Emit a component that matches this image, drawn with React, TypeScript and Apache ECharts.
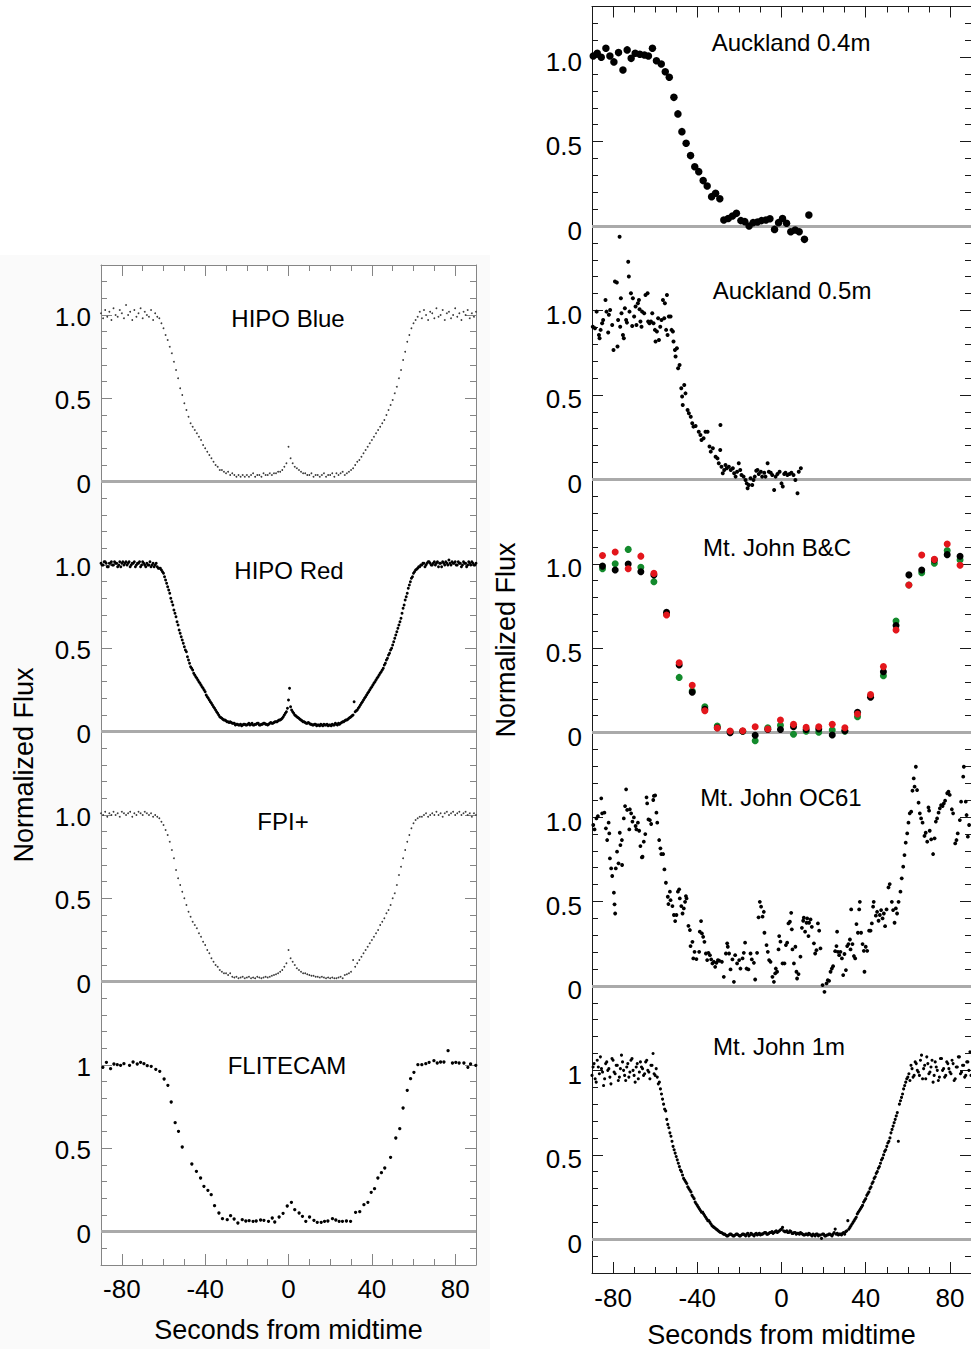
import React, { useEffect, useRef } from 'react';
import * as echarts from 'echarts';

const FONT = '"Liberation Sans", Arial, Helvetica, sans-serif';

// ---------- shared sample times (s from midtime) ----------
const secs = [-90,-89,-88,-87,-86,-85,-84,-83,-82,-81,-80,-79,-78,-77,-76,-75,-74,-73,-72,-71,-70,-69,-68,-67,-66,-65,-64,-63,-62,-61,-60,-59,-58,-57,-56,-55,-54,-53,-52,-51,-50,-49,-48,-47,-46,-45,-44,-43,-42,-41,-40,-39,-38,-37,-36,-35,-34,-33,-32,-31,-30,-29,-28,-27,-26,-25,-24,-23,-22,-21,-20,-19,-18,-17,-16,-15,-14,-13,-12,-11,-10,-9,-8,-7,-6,-5,-4,-3,-2,-1,0,1,2,3,4,5,6,7,8,9,10,11,12,13,14,15,16,17,18,19,20,21,22,23,24,25,26,27,28,29,30,31,32,33,34,35,36,37,38,39,40,41,42,43,44,45,46,47,48,49,50,51,52,53,54,55,56,57,58,59,60,61,62,63,64,65,66,67,68,69,70,71,72,73,74,75,76,77,78,79,80,81,82,83,84,85,86,87,88,89,90];
const secsHalf = [-89.5,-88.5,-87.5,-86.5,-85.5,-84.5,-83.5,-82.5,-81.5,-80.5,-79.5,-78.5,-77.5,-76.5,-75.5,-74.5,-73.5,-72.5,-71.5,-70.5,-69.5,-68.5,-67.5,-66.5,-65.5,-64.5,-63.5,-62.5,-61.5,-60.5,-59.5,-58.5,-57.5,-56.5,-55.5,-54.5,-53.5,-52.5,-51.5,-50.5,-49.5,-48.5,-47.5,-46.5,-45.5,-44.5,-43.5,-42.5,-41.5,-40.5,-39.5,-38.5,-37.5,-36.5,-35.5,-34.5,-33.5,-32.5,-31.5,-30.5,-29.5,-28.5,-27.5,-26.5,-25.5,-24.5,-23.5,-22.5,-21.5,-20.5,-19.5,-18.5,-17.5,-16.5,-15.5,-14.5,-13.5,-12.5,-11.5,-10.5,-9.5,-8.5,-7.5,-6.5,-5.5,-4.5,-3.5,-2.5,-1.5,-0.5,0.5,1.5,2.5,3.5,4.5,5.5,6.5,7.5,8.5,9.5,10.5,11.5,12.5,13.5,14.5,15.5,16.5,17.5,18.5,19.5,20.5,21.5,22.5,23.5,24.5,25.5,26.5,27.5,28.5,29.5,30.5,31.5,32.5,33.5,34.5,35.5,36.5,37.5,38.5,39.5,40.5,41.5,42.5,43.5,44.5,45.5,46.5,47.5,48.5,49.5,50.5,51.5,52.5,53.5,54.5,55.5,56.5,57.5,58.5,59.5,60.5,61.5,62.5,63.5,64.5,65.5,66.5,67.5,68.5,69.5,70.5,71.5,72.5,73.5,74.5,75.5,76.5,77.5,78.5,79.5,80.5,81.5,82.5,83.5,84.5,85.5,86.5,87.5,88.5,89.5];

// ---------- HIPO Blue ----------
const hipoBlue = [
1.01,0.98,1.03,0.99,1.02,0.97,1.04,1.00,0.99,1.03,
1.01,0.98,1.06,1.00,1.02,0.97,1.03,0.99,1.01,1.04,
0.98,1.02,1.00,0.99,1.03,0.97,1.01,0.99,0.98,0.95,
0.92,0.88,0.85,0.81,0.77,0.72,0.67,0.62,0.56,0.52,
0.47,0.43,0.39,0.35,0.33,0.31,0.29,0.27,0.25,0.22,
0.20,0.18,0.16,0.14,0.12,0.10,0.09,0.07,0.07,0.06,
0.05,0.06,0.04,0.05,0.04,0.03,0.04,0.03,0.04,0.03,
0.04,0.03,0.04,0.05,0.03,0.04,0.04,0.03,0.05,0.04,
0.04,0.05,0.04,0.05,0.05,0.06,0.06,0.07,0.09,0.11,
0.21,0.14,0.11,0.09,0.08,0.07,0.06,0.05,0.05,0.04,
0.04,0.05,0.03,0.04,0.04,0.03,0.04,0.05,0.03,0.04,
0.04,0.05,0.03,0.05,0.04,0.05,0.06,0.04,0.05,0.06,
0.07,0.08,0.10,0.12,0.13,0.15,0.17,0.19,0.21,0.23,
0.25,0.27,0.29,0.31,0.33,0.35,0.37,0.40,0.43,0.46,
0.49,0.53,0.57,0.62,0.67,0.73,0.78,0.84,0.88,0.92,
0.95,0.97,0.99,1.02,0.98,1.03,1.00,0.97,1.02,1.01,
0.98,1.04,0.99,1.00,1.03,0.97,1.01,1.02,0.98,1.00,
1.04,0.99,1.01,0.97,1.02,1.00,1.03,0.98,1.01,0.99,
1.02];

// ---------- HIPO Red ----------
const hipoRed = [
1.01,1.00,1.02,0.99,1.01,1.02,1.00,1.01,0.99,1.02,
1.01,1.00,1.02,1.01,0.99,1.01,1.02,1.00,1.01,0.99,
1.02,1.00,1.01,1.00,0.99,1.01,1.00,0.99,0.98,0.97,
0.95,0.91,0.87,0.83,0.78,0.73,0.69,0.64,0.59,0.55,
0.51,0.48,0.43,0.39,0.37,0.34,0.32,0.30,0.28,0.26,
0.24,0.21,0.19,0.17,0.15,0.13,0.11,0.09,0.08,0.07,
0.065,0.06,0.06,0.05,0.05,0.045,0.04,0.045,0.04,0.045,
0.04,0.05,0.045,0.04,0.045,0.05,0.04,0.045,0.05,0.045,
0.04,0.05,0.05,0.055,0.06,0.065,0.07,0.08,0.10,0.12,
0.19,0.15,0.12,0.10,0.09,0.08,0.07,0.06,0.055,0.05,
0.05,0.045,0.04,0.045,0.04,0.035,0.04,0.045,0.04,0.035,
0.04,0.045,0.04,0.045,0.05,0.05,0.06,0.065,0.07,0.08,
0.09,0.10,0.12,0.13,0.15,0.17,0.19,0.21,0.23,0.25,
0.27,0.29,0.31,0.33,0.35,0.37,0.40,0.43,0.46,0.49,
0.52,0.56,0.60,0.64,0.68,0.74,0.79,0.83,0.88,0.92,
0.95,0.97,0.98,0.99,1.00,1.01,1.00,1.02,1.01,1.00,
1.02,1.01,0.99,1.01,1.02,1.00,1.01,1.03,1.00,1.01,
1.02,1.00,1.01,0.99,1.02,1.01,1.00,1.01,1.02,1.00,
1.01];
const hipoRedHalf = [
1.00,1.02,1.01,0.99,1.01,1.00,1.02,1.01,1.00,0.99,
1.02,1.01,1.00,1.02,1.00,1.01,0.99,1.01,1.02,1.00,
1.01,0.99,1.00,1.02,1.00,0.99,1.01,0.98,0.98,0.96,
0.93,0.89,0.85,0.80,0.76,0.71,0.66,0.61,0.57,0.53,
0.49,0.45,0.41,0.38,0.35,0.33,0.31,0.29,0.27,0.25,
0.22,0.20,0.18,0.16,0.14,0.12,0.10,0.085,0.075,0.07,
0.06,0.055,0.055,0.05,0.04,0.045,0.04,0.035,0.045,0.04,
0.045,0.04,0.05,0.04,0.045,0.05,0.04,0.045,0.05,0.045,
0.045,0.055,0.05,0.06,0.06,0.07,0.075,0.09,0.11,0.14,
0.26,0.13,0.11,0.095,0.085,0.075,0.065,0.06,0.05,0.055,
0.045,0.04,0.045,0.035,0.04,0.045,0.035,0.04,0.045,0.04,
0.035,0.04,0.05,0.04,0.045,0.055,0.06,0.07,0.075,0.085,
0.095,0.18,0.125,0.14,0.16,0.18,0.20,0.22,0.24,0.26,
0.28,0.30,0.32,0.34,0.36,0.38,0.41,0.44,0.47,0.50,
0.54,0.58,0.62,0.66,0.71,0.76,0.81,0.86,0.90,0.93,
0.96,0.975,0.99,1.00,1.01,0.99,1.01,1.02,1.00,1.01,
1.00,1.02,1.01,0.99,1.01,1.02,1.00,1.01,1.02,1.01,
1.00,1.02,1.01,1.00,1.01,0.99,1.02,1.00,1.01,1.00];

// ---------- FPI+ ----------
const fpiPlus = [
1.01,1.00,1.02,0.99,1.01,1.00,1.02,1.00,1.01,0.99,
1.02,1.01,1.00,1.01,1.02,0.99,1.01,1.00,1.02,1.01,
1.00,1.02,1.01,1.00,1.01,0.99,1.00,0.99,0.98,0.96,
0.94,0.91,0.88,0.84,0.79,0.74,0.67,0.62,0.58,0.54,
0.50,0.46,0.42,0.39,0.36,0.34,0.32,0.29,0.27,0.24,
0.22,0.19,0.17,0.14,0.12,0.10,0.09,0.07,0.06,0.05,
0.05,0.04,0.05,0.03,0.025,0.03,0.02,0.025,0.03,0.02,
0.025,0.03,0.02,0.025,0.02,0.03,0.025,0.02,0.025,0.03,
0.025,0.03,0.035,0.04,0.045,0.05,0.06,0.07,0.09,0.11,
0.19,0.14,0.12,0.10,0.08,0.07,0.06,0.05,0.05,0.045,
0.04,0.035,0.035,0.03,0.03,0.025,0.03,0.025,0.02,0.025,
0.02,0.025,0.02,0.02,0.025,0.03,0.02,0.04,0.045,0.05,
0.06,0.13,0.09,0.11,0.13,0.15,0.17,0.19,0.21,0.23,
0.25,0.27,0.29,0.31,0.34,0.36,0.38,0.41,0.43,0.46,
0.50,0.53,0.58,0.64,0.69,0.74,0.79,0.84,0.88,0.92,
0.95,0.97,0.98,0.99,0.99,1.00,1.01,0.99,1.00,1.01,
1.00,1.02,1.00,1.01,0.99,1.01,1.02,1.00,1.01,1.02,
1.00,1.01,1.02,1.00,1.01,1.02,1.00,1.01,0.99,1.01,
1.00];

// ---------- FLITECAM [s, flux] ----------
const flitecam = [
[-89.1,0.986],[-87.4,1.016],[-85.4,0.978],[-83.8,1.006],[-82.2,1.002],[-80.6,0.998],[-79.0,1.008],[-76.3,0.998],[-74.6,1.018],[-72.6,1.006],
[-71.0,1.016],[-69.4,1.008],[-67.8,0.996],[-65.9,0.992],[-63.7,0.974],[-61.8,0.962],[-59.7,0.916],[-57.9,0.878],[-56.3,0.778],[-54.4,0.654],
[-52.8,0.602],[-51.0,0.508],[-46.4,0.406],[-44.2,0.362],[-42.2,0.322],[-40.6,0.272],[-38.7,0.248],[-37.1,0.222],[-35.5,0.156],[-33.4,0.112],
[-31.7,0.078],[-29.4,0.072],[-27.8,0.096],[-26.1,0.076],[-24.3,0.052],[-22.2,0.072],[-20.5,0.064],[-18.9,0.066],[-17.0,0.062],[-15.5,0.064],
[-13.4,0.070],[-11.8,0.068],[-9.6,0.062],[-7.8,0.082],[-6.6,0.058],[-4.5,0.088],[-2.6,0.110],[-0.6,0.154],[1.4,0.176],[3.0,0.132],
[5.1,0.112],[6.7,0.092],[8.3,0.062],[10.1,0.088],[12.2,0.068],[13.8,0.056],[15.7,0.056],[17.3,0.062],[18.9,0.064],[21.1,0.078],
[22.7,0.070],[24.3,0.062],[25.9,0.062],[27.8,0.064],[29.8,0.062],[32.2,0.116],[34.2,0.120],[36.2,0.162],[38.1,0.176],[39.7,0.236],
[41.3,0.258],[42.9,0.322],[44.6,0.354],[46.2,0.382],[49.0,0.446],[51.5,0.562],[53.4,0.618],[55.0,0.742],[57.0,0.848],[58.6,0.918],
[60.2,0.956],[62.1,1.002],[64.0,1.002],[65.9,1.008],[67.5,1.016],[69.8,1.026],[71.4,1.012],[73.0,1.018],[74.6,1.018],[76.6,1.086],
[78.7,1.012],[80.3,1.016],[81.9,1.012],[84.2,1.012],[86.1,0.986],[87.4,1.006],[89.9,0.998]];

// ---------- Auckland 0.4m [s, flux] ----------
const auckland04 = [
[-89.4,1.007],[-87.5,1.023],[-85.6,0.999],[-83.4,1.053],[-81.5,1.007],[-79.6,0.972],[-77.4,1.027],[-75.3,0.924],[-73.3,1.043],[-71.4,0.993],
[-69.5,1.023],[-67.3,1.017],[-65.1,1.013],[-63.2,1.007],[-61.3,1.053],[-59.4,0.979],[-57.1,0.960],[-55.2,0.914],[-53.3,0.881],[-51.1,0.762],
[-49.2,0.664],[-47.3,0.559],[-45.3,0.490],[-43.2,0.417],[-41.2,0.351],[-39.3,0.322],[-37.2,0.269],[-35.3,0.237],[-33.2,0.174],[-31.3,0.194],
[-29.3,0.162],[-27.4,0.036],[-25.3,0.045],[-23.3,0.059],[-21.4,0.075],[-19.3,0.032],[-17.4,0.026],[-15.4,0.000],[-13.5,0.020],[-11.4,0.024],
[-9.5,0.032],[-7.4,0.036],[-5.5,0.043],[-3.3,-0.020],[-1.4,0.020],[0.5,0.045],[2.4,0.016],[4.4,-0.034],[6.5,-0.024],[8.4,-0.034],
[10.9,-0.079],[13.0,0.065]];

// ---------- Auckland 0.5m [s, flux] ----------
const auckland05 = [
[-89.6,0.904],[-88.6,0.895],[-87.8,0.993],[-86.7,0.855],[-86.4,0.835],[-85.9,0.885],[-85.2,0.924],[-84.7,0.944],[-83.6,1.062],[-83.1,0.993],
[-82.3,0.869],[-82.0,0.974],[-81.4,1.003],[-80.4,0.914],[-79.8,0.766],[-79.1,1.171],[-78.2,1.165],[-77.9,0.786],[-77.6,0.944],[-76.6,0.904],
[-76.3,1.072],[-76.0,0.983],[-75.3,0.855],[-74.9,0.835],[-74.4,1.013],[-73.8,0.944],[-73.4,0.928],[-72.8,1.289],[-72.5,1.201],[-72.2,0.993],
[-71.5,1.102],[-70.9,0.908],[-70.6,1.072],[-70.0,0.964],[-69.3,1.023],[-68.9,0.914],[-68.2,1.043],[-67.7,1.062],[-67.4,1.007],[-67.0,0.934],
[-66.5,0.904],[-66.2,0.993],[-65.2,0.983],[-64.6,1.092],[-63.6,1.102],[-63.3,0.934],[-62.7,0.924],[-62.0,0.934],[-61.4,0.983],[-60.8,0.924],
[-60.1,0.885],[-59.8,0.816],[-59.2,0.875],[-58.6,0.954],[-58.2,0.825],[-57.6,0.904],[-57.0,0.944],[-56.3,1.062],[-55.7,0.954],[-55.4,1.043],
[-54.8,0.885],[-54.4,1.092],[-54.1,0.855],[-53.5,0.964],[-52.7,0.964],[-52.2,0.885],[-51.6,0.875],[-51.3,0.816],[-50.6,0.766],[-50.3,0.727],
[-49.7,0.776],[-49.1,0.658],[-48.4,0.677],[-47.6,0.539],[-47.2,0.490],[-46.9,0.440],[-46.2,0.559],[-45.6,0.509],[-44.6,0.411],[-44.0,0.391],
[-43.1,0.371],[-42.4,0.332],[-41.8,0.312],[-40.8,0.316],[-39.3,0.282],[-38.5,0.263],[-38.0,0.233],[-37.0,0.243],[-36.1,0.282],[-35.1,0.282],
[-34.2,0.194],[-33.6,0.164],[-32.6,0.184],[-29.0,0.322],[-31.3,0.134],[-30.4,0.124],[-29.8,0.095],[-29.1,0.174],[-28.5,0.075],[-27.9,0.036],
[-27.2,0.055],[-26.6,0.085],[-26.0,0.065],[-25.0,0.075],[-24.1,0.055],[-23.1,0.065],[-22.5,0.036],[-21.8,0.016],[-21.1,0.045],[-20.3,0.095],
[-19.6,0.055],[-19.0,0.026],[-18.0,0.016],[-17.1,-0.004],[-16.5,-0.024],[-16.1,-0.053],[-15.5,-0.034],[-14.7,0.006],[-13.9,-0.034],[-13.3,-0.004],
[-12.7,0.016],[-12.0,0.051],[-11.4,0.055],[-10.8,0.032],[-9.8,0.045],[-9.2,0.016],[-8.2,0.039],[-7.6,0.016],[-6.6,0.095],[-6.0,0.045],
[-5.1,0.039],[-4.4,0.026],[-3.5,-0.063],[-2.8,0.016],[-1.9,0.032],[-0.9,0.045],[0.0,-0.024],[0.6,-0.043],[1.3,0.032],[1.9,0.039],
[2.8,0.026],[3.8,0.032],[4.7,0.039],[5.7,0.026],[6.6,-0.004],[7.6,-0.083],[8.2,0.045],[9.2,0.065],[-76.9,1.436]];

// ---------- Mt. John B&C ----------
const bcTimes = [-85.0,-79.0,-72.8,-66.8,-60.6,-54.6,-48.6,-42.4,-36.4,-30.5,-24.4,-18.4,-12.5,-6.5,-0.5,5.7,11.7,17.7,24.1,30.1,36.1,42.3,48.4,54.4,60.5,66.6,72.6,78.7,84.8];
const bcBlack = [0.986,0.963,0.998,0.953,0.934,0.712,0.400,0.239,0.138,0.029,0.000,0.008,-0.016,0.019,0.019,0.035,0.019,0.021,-0.014,0.011,0.120,0.209,0.361,0.634,0.934,0.963,1.023,1.054,1.044];
const bcGreen = [0.970,1.000,1.085,0.979,0.894,0.703,0.327,0.246,0.153,0.039,0.006,0.008,-0.048,0.029,0.043,-0.010,0.008,0.002,0.015,0.009,0.094,0.217,0.337,0.661,0.874,0.947,1.003,1.078,1.023];
const bcRed = [1.049,1.070,0.970,1.045,0.943,0.697,0.414,0.280,0.130,0.027,0.010,0.011,0.035,0.021,0.075,0.049,0.031,0.035,0.049,0.029,0.110,0.225,0.391,0.608,0.874,1.052,1.026,1.117,0.991];

// ---------- Mt. John OC61 [s, flux] ----------
const oc61 = [
[-89.4,0.953],[-88.8,0.927],[-87.9,0.992],[-87.2,1.006],[-85.6,1.111],[-85.2,1.022],[-84.1,1.026],[-83.4,0.933],[-82.8,0.864],[-82.1,0.967],
[-81.8,0.903],[-81.5,0.755],[-80.9,0.696],[-80.4,0.651],[-79.6,0.552],[-79.3,0.483],[-79.0,0.429],[-78.7,0.696],[-78.1,0.795],[-77.4,0.726],
[-76.8,0.907],[-76.5,0.834],[-75.8,0.864],[-75.7,0.716],[-74.9,0.992],[-74.3,1.065],[-73.8,1.164],[-73.3,1.042],[-72.3,0.927],[-72.0,1.046],
[-71.4,1.022],[-70.8,0.973],[-70.1,0.998],[-69.3,0.947],[-68.9,0.927],[-68.2,0.967],[-67.6,0.919],[-67.0,0.828],[-66.3,0.761],[-66.0,0.765],
[-65.4,0.854],[-64.7,0.899],[-64.1,1.117],[-63.8,1.081],[-63.2,0.986],[-62.5,0.982],[-61.9,0.959],[-60.9,1.101],[-60.6,1.125],[-60.0,1.128],
[-59.4,1.026],[-59.0,0.967],[-58.1,0.864],[-57.5,0.815],[-57.1,0.781],[-56.2,0.781],[-55.6,0.690],[-54.9,0.611],[-54.0,0.528],[-53.7,0.485],
[-53.0,0.558],[-52.7,0.508],[-51.8,0.473],[-51.1,0.420],[-50.5,0.384],[-49.9,0.420],[-49.2,0.558],[-48.6,0.572],[-48.3,0.518],[-47.6,0.473],
[-47.0,0.429],[-46.4,0.459],[-45.8,0.498],[-45.4,0.532],[-45.1,0.518],[-44.2,0.356],[-43.5,0.331],[-43.2,0.236],[-42.3,0.261],[-41.9,0.163],
[-41.3,0.202],[-40.4,0.159],[-39.1,0.202],[-38.8,0.321],[-38.2,0.384],[-37.8,0.311],[-37.2,0.291],[-36.6,0.261],[-35.9,0.192],[-35.3,0.153],
[-34.7,0.196],[-34.0,0.182],[-33.4,0.157],[-32.8,0.133],[-32.1,0.143],[-31.5,0.113],[-30.9,0.137],[-30.2,0.153],[-29.6,0.149],[-28.3,0.143],
[-27.4,0.054],[-26.4,0.192],[-25.8,0.252],[-25.5,0.232],[-24.9,0.192],[-24.2,0.098],[-23.3,0.157],[-22.6,0.024],[-22.0,0.182],[-21.1,0.133],
[-20.1,0.153],[-19.5,0.103],[-18.5,0.163],[-17.9,0.196],[-17.3,0.256],[-16.6,0.103],[-15.7,0.098],[-14.7,0.192],[-14.1,0.157],[-13.1,0.137],
[-12.5,0.038],[-11.6,0.196],[-10.9,0.406],[-10.3,0.498],[-9.7,0.469],[-9.0,0.410],[-8.4,0.439],[-8.1,0.315],[-7.1,0.242],[-6.5,0.202],
[-5.9,0.153],[-5.2,0.143],[-4.3,0.054],[-3.6,0.024],[-3.0,0.074],[-2.7,0.103],[-2.1,0.084],[-1.4,0.216],[-1.1,0.295],[-0.5,0.262],
[0.5,0.133],[1.4,0.133],[2.1,0.242],[2.7,0.256],[3.3,0.370],[4.0,0.380],[4.6,0.433],[4.9,0.335],[5.2,0.216],[5.9,0.133],
[6.6,0.232],[7.1,0.084],[7.4,0.044],[8.1,0.070],[9.0,0.173],[9.7,0.344],[10.3,0.386],[10.6,0.404],[11.2,0.321],[11.9,0.374],
[12.2,0.400],[12.8,0.295],[13.1,0.374],[13.8,0.394],[14.4,0.350],[15.4,0.252],[16.0,0.192],[16.6,0.212],[17.3,0.370],[17.9,0.327],
[18.5,0.222],[19.5,0.005],[20.4,-0.035],[21.4,0.015],[22.0,0.034],[22.6,0.030],[23.3,0.084],[23.9,0.103],[24.5,0.117],[25.5,0.206],
[26.1,0.236],[26.4,0.321],[26.8,0.202],[27.4,0.182],[28.0,0.202],[28.7,0.163],[29.3,0.064],[29.9,0.189],[30.6,0.094],[31.2,0.236],
[31.8,0.248],[32.5,0.275],[32.8,0.216],[33.1,0.453],[33.7,0.248],[34.4,0.177],[35.0,0.163],[35.6,0.366],[36.3,0.315],[36.9,0.453],
[37.2,0.498],[37.8,0.315],[38.5,0.248],[39.1,0.208],[39.4,0.084],[40.0,0.232],[40.7,0.208],[41.6,0.327],[42.3,0.327],[42.9,0.370],
[43.5,0.469],[43.8,0.498],[44.8,0.416],[45.4,0.439],[46.1,0.386],[46.7,0.420],[47.3,0.449],[48.0,0.400],[48.6,0.429],[49.2,0.354],
[49.9,0.453],[50.8,0.583],[51.4,0.603],[52.4,0.498],[53.0,0.449],[53.7,0.374],[54.3,0.459],[54.9,0.429],[55.6,0.498],[56.5,0.558],
[57.1,0.637],[57.8,0.706],[58.4,0.775],[59.0,0.848],[59.7,0.903],[60.3,0.967],[60.9,1.022],[61.6,1.032],[62.2,1.156],[62.8,1.229],
[63.2,1.180],[63.8,1.298],[64.4,1.160],[65.1,1.085],[65.7,1.022],[66.3,0.992],[67.0,0.967],[67.9,0.888],[68.5,0.907],[69.2,0.854],
[69.8,1.057],[70.1,1.038],[70.4,0.919],[71.1,0.868],[72.0,0.781],[72.7,0.874],[73.3,0.973],[73.9,0.992],[74.6,1.026],[75.2,1.052],
[75.8,1.071],[76.5,1.065],[77.1,1.081],[77.7,1.097],[78.7,1.141],[79.3,1.150],[79.9,1.131],[80.9,1.046],[81.5,1.022],[82.5,0.844],
[83.1,0.864],[83.7,0.903],[84.7,0.982],[85.3,1.091],[86.3,1.239],[86.6,1.298],[87.5,1.091],[87.9,1.012],[88.5,0.884],[89.1,0.953]];

// ---------- Mt. John 1m ----------
const mj1m = [
0.97,1.04,0.93,1.02,1.08,0.99,0.95,1.05,1.01,0.92,
1.06,0.98,1.03,0.96,1.09,1.00,0.94,1.04,0.99,1.07,
0.97,1.02,0.95,1.05,1.01,0.98,1.06,0.99,1.03,1.10,
0.97,0.96,0.93,0.86,0.80,0.76,0.68,0.63,0.58,0.53,
0.49,0.45,0.41,0.38,0.35,0.33,0.30,0.28,0.25,0.22,
0.20,0.18,0.16,0.15,0.13,0.11,0.10,0.08,0.07,0.06,
0.05,0.04,0.035,0.03,0.02,0.025,0.03,0.02,0.025,0.03,
0.02,0.025,0.03,0.02,0.035,0.025,0.03,0.02,0.035,0.03,
0.025,0.03,0.04,0.03,0.035,0.04,0.035,0.045,0.04,0.05,
0.06,0.05,0.045,0.04,0.05,0.035,0.04,0.03,0.035,0.04,
0.03,0.025,0.03,0.035,0.025,0.03,0.02,0.03,0.025,0.005,
0.03,0.02,0.025,0.03,0.02,0.04,0.03,0.025,0.03,0.035,
0.03,0.05,0.06,0.08,0.10,0.12,0.15,0.17,0.19,0.22,
0.24,0.27,0.30,0.33,0.36,0.39,0.42,0.45,0.48,0.52,
0.55,0.58,0.63,0.67,0.71,0.75,0.80,0.84,0.89,0.93,
0.96,0.94,1.01,0.97,1.04,0.99,1.06,0.95,1.03,1.08,
0.98,1.02,0.93,1.05,1.00,0.96,1.07,1.01,0.97,1.04,
0.99,1.06,0.94,1.02,1.08,0.98,1.03,0.96,1.05,1.00,
0.97];
const mj1mHalf = [
1.02,0.95,1.06,0.98,1.01,0.91,1.04,1.00,0.96,1.07,
0.99,1.03,0.94,1.01,1.05,0.97,1.02,0.96,1.06,1.00,
0.93,1.04,0.99,1.02,0.97,1.05,1.00,0.95,1.03,0.98,
1.01,0.92,0.89,0.83,0.77,0.71,0.66,0.61,0.55,0.51,
0.47,0.43,0.40,0.36,0.34,0.31,0.29,0.26,0.24,0.21,
0.19,0.17,0.16,0.14,0.12,0.11,0.09,0.075,0.065,0.055,
0.045,0.04,0.03,0.025,0.02,0.03,0.025,0.02,0.03,0.025,
0.02,0.03,0.025,0.03,0.02,0.035,0.025,0.03,0.025,0.035,
0.03,0.035,0.04,0.03,0.04,0.045,0.04,0.05,0.045,0.055,
0.07,0.045,0.05,0.04,0.045,0.035,0.04,0.035,0.03,0.035,
0.025,0.03,0.025,0.03,0.02,0.025,0.03,0.02,0.025,0.03,
0.02,0.025,0.03,0.025,0.03,0.06,0.035,0.03,0.025,0.04,
0.045,0.11,0.07,0.09,0.11,0.13,0.16,0.18,0.20,0.23,
0.26,0.28,0.31,0.34,0.37,0.40,0.43,0.47,0.50,0.53,
0.57,0.60,0.65,0.69,0.73,0.58,0.82,0.86,0.91,0.95,
0.98,1.03,0.96,1.05,1.00,0.97,1.09,1.01,0.95,1.04,
0.99,1.06,0.97,1.02,0.94,1.07,1.00,0.96,1.05,1.01,
0.98,1.04,0.95,1.02,1.08,0.99,1.03,0.97,1.05,1.11];

// ---------- axis tick values ----------
const xLongTicks = [-80, -40, 0, 40, 80];
const yLabelTicks = [0, 0.5, 1];

function zip(t: number[], f: number[]): number[][] {
  const n = Math.min(t.length, f.length);
  const out: number[][] = [];
  for (let i = 0; i < n; i++) out.push([t[i], f[i]]);
  return out;
}

type SeriesSpec = { name: string; data: number[][]; color: string; size: number; clip?: boolean; opacity?: number };
type PanelSpec = {
  title: string; tx: number; ty: number;
  left: number; top: number; width: number; height: number;
  isTop: boolean; isBottom: boolean; axisColor: string; oneLabel: string;
  labelMarginX: number; nameGap: number; yLabelShift: number;
  series: SeriesSpec[];
};

const L = { left: 101, width: 375, axisColor: '#858585', yLabelShift: 2 };
const R = { left: 592, width: 379, axisColor: '#1a1a1a', yLabelShift: 4.5 };
const RH = 253.3;
const RT = 6.5;

const panels: PanelSpec[] = [
  { title: 'HIPO Blue', tx: 288, ty: 318, ...L, top: 265, height: 250, isTop: true, isBottom: false, oneLabel: '1.0', labelMarginX: 11, nameGap: 50,
    series: [{ name: 'HIPO Blue', data: zip(secs, hipoBlue), color: '#3a3a3a', size: 1.8 }] },
  { title: 'HIPO Red', tx: 289, ty: 570, ...L, top: 515, height: 250, isTop: false, isBottom: false, oneLabel: '1.0', labelMarginX: 11, nameGap: 50,
    series: [
      { name: 'HIPO Red', data: zip(secs, hipoRed), color: '#000', size: 2.9 },
      { name: 'HIPO Red b', data: zip(secsHalf, hipoRedHalf), color: '#000', size: 2.9 }] },
  { title: 'FPI+', tx: 283, ty: 821, ...L, top: 765, height: 250, isTop: false, isBottom: false, oneLabel: '1.0', labelMarginX: 11, nameGap: 50,
    series: [{ name: 'FPI+', data: zip(secs, fpiPlus), color: '#3a3a3a', size: 1.8 }] },
  { title: 'FLITECAM', tx: 287, ty: 1065, ...L, top: 1015, height: 250, isTop: false, isBottom: true, oneLabel: '1', labelMarginX: 11, nameGap: 51,
    series: [{ name: 'FLITECAM', data: flitecam, color: '#000', size: 3.3 }] },
  { title: 'Auckland 0.4m', tx: 791, ty: 42, ...R, top: RT, height: RH, isTop: true, isBottom: false, oneLabel: '1.0', labelMarginX: 12, nameGap: 48,
    series: [{ name: 'Auckland 0.4m', data: auckland04, color: '#000', size: 7.5 }] },
  { title: 'Auckland 0.5m', tx: 792, ty: 290, ...R, top: RT + RH, height: RH, isTop: false, isBottom: false, oneLabel: '1.0', labelMarginX: 12, nameGap: 48,
    series: [{ name: 'Auckland 0.5m', data: auckland05, color: '#000', size: 4, clip: false }] },
  { title: 'Mt. John B&C', tx: 777, ty: 547, ...R, top: RT + 2 * RH, height: RH, isTop: false, isBottom: false, oneLabel: '1.0', labelMarginX: 12, nameGap: 48,
    series: [
      { name: 'B&C green', data: zip(bcTimes, bcGreen), color: '#138a2c', size: 7 },
      { name: 'B&C black', data: zip(bcTimes, bcBlack), color: '#000', size: 7 },
      { name: 'B&C red', data: zip(bcTimes, bcRed), color: '#e3161c', size: 7 }] },
  { title: 'Mt. John OC61', tx: 781, ty: 797, ...R, top: RT + 3 * RH, height: RH, isTop: false, isBottom: false, oneLabel: '1.0', labelMarginX: 12, nameGap: 48,
    series: [{ name: 'Mt. John OC61', data: oc61, color: '#000', size: 3.8 }] },
  { title: 'Mt. John 1m', tx: 779, ty: 1046, ...R, top: RT + 4 * RH, height: RH, isTop: false, isBottom: true, oneLabel: '1', labelMarginX: 12, nameGap: 48,
    series: [
      { name: 'Mt. John 1m', data: zip(secs, mj1m), color: '#000', size: 3.1 },
      { name: 'Mt. John 1m b', data: zip(secsHalf, mj1mHalf), color: '#000', size: 3.1 }] },
];

function buildOption() {
  const grid: any[] = [];
  const xAxis: any[] = [];
  const yAxis: any[] = [];
  const series: any[] = [];
  const graphic: any[] = [];

  graphic.push({ type: 'rect', z: -10, silent: true, shape: { x: 0, y: 255, width: 490, height: 1094 }, style: { fill: '#fafafa' } });

  panels.forEach((p) => {
    const gi = grid.length;
    grid.push({ left: p.left, top: p.top, width: p.width, height: p.height, containLabel: false, show: true, backgroundColor: '#ffffff', borderWidth: 0 });
    const lc = p.axisColor;
    const baseX = { type: 'value', gridIndex: gi, min: -90, max: 90, splitLine: { show: false } };
    const baseY = { type: 'value', gridIndex: gi, min: -0.2, max: 1.3, splitLine: { show: false } };

    const mainX = xAxis.length;
    xAxis.push({ ...baseX, interval: 10, position: 'bottom',
      axisLine: { show: p.isBottom, onZero: false, lineStyle: { color: lc, width: 1 } },
      axisTick: { show: p.isBottom, inside: true, length: 6, lineStyle: { color: lc } },
      axisLabel: { show: false } });
    if (p.isBottom) {
      xAxis.push({ ...baseX, position: 'bottom',
        axisLine: { show: false, onZero: false },
        axisTick: { show: true, inside: true, length: 11, customValues: xLongTicks, lineStyle: { color: lc } },
        axisLabel: { show: true, customValues: xLongTicks, fontSize: 26, color: '#000', fontFamily: FONT, margin: p.labelMarginX },
        name: 'Seconds from midtime', nameLocation: 'middle', nameGap: p.nameGap,
        nameTextStyle: { fontSize: 27, color: '#000', fontFamily: FONT } });
    }
    if (p.isTop) {
      xAxis.push({ ...baseX, interval: 10, position: 'top',
        axisLine: { show: true, onZero: false, lineStyle: { color: lc, width: 1 } },
        axisTick: { show: true, inside: true, length: 6, lineStyle: { color: lc } },
        axisLabel: { show: false } });
      xAxis.push({ ...baseX, position: 'top',
        axisLine: { show: false, onZero: false },
        axisTick: { show: true, inside: true, length: 11, customValues: xLongTicks, lineStyle: { color: lc } },
        axisLabel: { show: false } });
    }

    const mainY = yAxis.length;
    const one = p.oneLabel;
    yAxis.push({ ...baseY, interval: 0.1, position: 'left',
      axisLine: { show: true, onZero: false, lineStyle: { color: lc, width: 1 } },
      axisTick: { show: true, inside: true, length: 6, lineStyle: { color: lc } },
      axisLabel: { show: true, customValues: yLabelTicks, fontSize: 26, color: '#000', fontFamily: FONT, margin: 10,
        verticalAlign: 'top', lineHeight: 2 * p.yLabelShift,
        formatter: (v: number) => (Math.abs(v) < 1e-6 ? '0' : Math.abs(v - 0.5) < 1e-6 ? '0.5' : one) } });
    yAxis.push({ ...baseY, position: 'left',
      axisLine: { show: false, onZero: false },
      axisTick: { show: true, inside: true, length: 11, customValues: yLabelTicks, lineStyle: { color: lc } },
      axisLabel: { show: false } });
    yAxis.push({ ...baseY, interval: 0.1, position: 'right',
      axisLine: { show: true, onZero: false, lineStyle: { color: lc, width: 1 } },
      axisTick: { show: true, inside: true, length: 6, lineStyle: { color: lc } },
      axisLabel: { show: false } });
    yAxis.push({ ...baseY, position: 'right',
      axisLine: { show: false, onZero: false },
      axisTick: { show: true, inside: true, length: 11, customValues: yLabelTicks, lineStyle: { color: lc } },
      axisLabel: { show: false } });

    p.series.forEach((s, si) => {
      const ser: any = {
        type: 'scatter', name: s.name, xAxisIndex: mainX, yAxisIndex: mainY,
        data: s.data, symbol: 'circle', symbolSize: s.size, z: 3,
        itemStyle: { color: s.color, opacity: s.opacity ?? 1 },
        clip: s.clip ?? true, silent: true,
      };
      if (si === 0) {
        ser.markLine = {
          silent: true, z: 1, symbol: ['none', 'none'], label: { show: false },
          lineStyle: { color: '#aaaaaa', width: 3, type: 'solid' },
          data: [{ yAxis: 0 }],
        };
      }
      series.push(ser);
    });

    graphic.push({ type: 'text', x: p.tx, y: p.ty, z: 10, silent: true,
      style: { text: p.title, fontSize: 24, fontFamily: FONT, fill: '#000', align: 'center', verticalAlign: 'middle', textAlign: 'center', textVerticalAlign: 'middle' } });
  });

  const yTitle = (x: number, y: number) => ({
    type: 'text', x, y, rotation: Math.PI / 2, z: 10, silent: true,
    style: { text: 'Normalized Flux', fontSize: 27, fontFamily: FONT, fill: '#000', align: 'center', verticalAlign: 'middle', textAlign: 'center', textVerticalAlign: 'middle' },
  });
  graphic.push(yTitle(24, 765));
  graphic.push(yTitle(506, 640));

  return {
    animation: false,
    backgroundColor: '#ffffff',
    grid, xAxis, yAxis, series, graphic,
  };
}

export default function App() {
  const ref = useRef<HTMLDivElement>(null);
  useEffect(() => {
    if (!ref.current) return;
    const chart = echarts.init(ref.current, undefined, { renderer: 'svg' });
    chart.setOption(buildOption() as any);
    return () => chart.dispose();
  }, []);
  return <div ref={ref} style={{ position: 'absolute', left: 0, top: 0, width: 971, height: 1349, background: '#fff' }} />;
}
